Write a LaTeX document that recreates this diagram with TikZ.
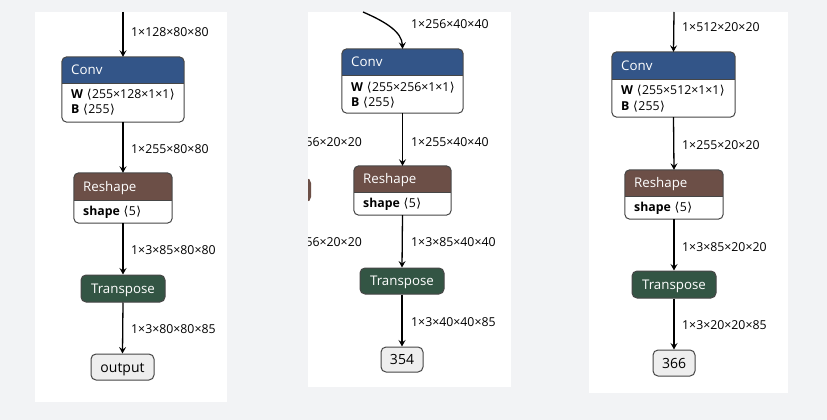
\documentclass[tikz,border=0pt]{standalone}
\usepackage{fontspec}
\setmainfont{Open Sans}
\newfontfamily\dvfont{DejaVu Sans}
\usetikzlibrary{arrows.meta,fit}
\definecolor{pagebg}{RGB}{242,243,245}
\definecolor{convc}{RGB}{51,85,136}
\definecolor{reshc}{RGB}{108,79,71}
\definecolor{tranc}{RGB}{51,85,68}
\definecolor{bord}{RGB}{70,70,70}
\definecolor{termc}{RGB}{238,238,238}
\newcommand{\lbrk}{{\dvfont\kern0.5pt ⟨\kern0.5pt}}
\newcommand{\rbrk}{{\dvfont\kern0.5pt ⟩}}
\tikzset{
  lbl/.style={font=\fontsize{12.3}{14}\selectfont, anchor=west, inner sep=0pt, text height=8.8pt, text depth=0pt},
  att/.style={font=\fontsize{12.3}{14}\selectfont, anchor=west, inner sep=0pt, text height=8.8pt, text depth=0pt},
  hdr/.style={font=\fontsize{13.3}{15}\selectfont, text=white, anchor=west, inner sep=0pt, text height=9.5pt, text depth=0pt},
  termtxt/.style={font=\fontsize{14}{16}\selectfont, text=black, inner sep=0pt, text height=10pt, text depth=0pt},
  trtxt/.style={font=\fontsize{13.3}{15}\selectfont, text=white, inner sep=0pt, text height=9.5pt, text depth=0pt},
  edge/.style={draw=black, line width=1.3pt, -{Stealth[length=6.5pt,width=7pt,inset=2.5pt]}},
  panel/.style={fill=white},
}
\newcommand{\opbox}[8]{%
  \node[fit={(#2,#3) (#4,#5)}, inner sep=0pt] (#1) {};
  \fill[white, rounded corners=5pt] (#1.north west) rectangle (#1.south east);
  \begin{scope}
    \clip[rounded corners=5pt] (#1.north west) rectangle (#1.south east);
    \fill[#7] (#2,#3) rectangle (#4,#6);
  \end{scope}
  \draw[bord, line width=0.8pt] (#2,#6) -- (#4,#6);
  \draw[bord, line width=1pt, rounded corners=5pt] (#1.north west) rectangle (#1.south east);
  \node[hdr] (#1-t) at ({#2+9},{(#3+#6)/2}) {#8};
}
\newcommand{\onebox}[8]{%
  \node[fit={(#2,#3) (#4,#5)}, inner sep=0pt, draw=bord, line width=1pt, fill=#6, rounded corners=5pt] (#1) {};
  \node[#7] (#1-t) at (#1.center) {#8};
}
\begin{document}
\begin{tikzpicture}[x=1pt,y=-1pt]
\useasboundingbox (0,0) rectangle (827,420);
\fill[pagebg] (0,0) rectangle (827,420);
% panels
\fill[panel] (35,12) rectangle (227,402);
\fill[panel] (308,12) rectangle (511,387);
\fill[panel] (589,12) rectangle (788,393);

% ---------- panel 1 ----------
\coordinate (in1) at (123,12);
\opbox{conv1}{62}{57}{184}{122}{83}{convc}{Conv}
\node[att] (conv1-w) at (71,94) {\textbf{W} \lbrk255×128×1×1\rbrk};
\node[att] (conv1-b) at (71,109) {\textbf{B} \lbrk255\rbrk};
\opbox{resh1}{74}{173}{172}{223}{200}{reshc}{Reshape}
\node[att] (resh1-s) at (83,211) {\textbf{shape} \lbrk5\rbrk};
\onebox{tr1}{81}{275}{165}{302}{tranc}{trtxt}{Transpose}
\onebox{out1}{91}{354}{154}{380}{termc}{termtxt}{output}
\draw[edge] (in1) -- (conv1.north);
\draw[edge] (conv1.south) -- (resh1.north);
\draw[edge] (resh1.south) -- (tr1.north);
\draw[edge] (tr1.south) -- (out1.north);
\node[lbl] (l1a) at (131,32) {1×128×80×80};
\node[lbl] (l1b) at (131,149) {1×255×80×80};
\node[lbl] (l1c) at (131,250) {1×3×85×80×80};
\node[lbl] (l1d) at (131,329) {1×3×80×80×85};

% ---------- panel 2 ----------
\begin{scope}
  \clip (308,12) rectangle (511,387);
  \node[lbl, anchor=east] (x2a) at (362,142) {1×256×20×20};
  \node[lbl, anchor=east] (x2b) at (362,242) {1×256×20×20};
  \fill[reshc, rounded corners=5pt] (260,178) rectangle (311,202);
\end{scope}
\coordinate (in2) at (363,12);
\opbox{conv2}{342}{49}{463}{113}{75}{convc}{Conv}
\node[att] (conv2-w) at (351,87) {\textbf{W} \lbrk255×256×1×1\rbrk};
\node[att] (conv2-b) at (351,102) {\textbf{B} \lbrk255\rbrk};
\opbox{resh2}{354}{166}{451}{215}{192}{reshc}{Reshape}
\node[att] (resh2-s) at (363,203) {\textbf{shape} \lbrk5\rbrk};
\onebox{tr2}{360}{268}{444}{294}{tranc}{trtxt}{Transpose}
\onebox{out2}{381}{347}{423}{372}{termc}{termtxt}{354}
\draw[edge] (in2) .. controls (386,22) and (402,32) .. (conv2.north);
\draw[edge] (conv2.south) -- (resh2.north);
\draw[edge] (resh2.south) -- (tr2.north);
\draw[edge] (tr2.south) -- (out2.north);
\node[lbl] (l2a) at (411,24) {1×256×40×40};
\node[lbl] (l2b) at (411,142) {1×255×40×40};
\node[lbl] (l2c) at (411,242) {1×3×85×40×40};
\node[lbl] (l2d) at (411,322) {1×3×40×40×85};

% ---------- panel 3 ----------
\coordinate (in3) at (674,12);
\opbox{conv3}{612}{52}{735}{117}{79}{convc}{Conv}
\node[att] (conv3-w) at (621,90) {\textbf{W} \lbrk255×512×1×1\rbrk};
\node[att] (conv3-b) at (621,106) {\textbf{B} \lbrk255\rbrk};
\opbox{resh3}{625}{170}{723}{219}{196}{reshc}{Reshape}
\node[att] (resh3-s) at (634,207) {\textbf{shape} \lbrk5\rbrk};
\onebox{tr3}{632}{271}{716}{298}{tranc}{trtxt}{Transpose}
\onebox{out3}{653}{350}{695}{376}{termc}{termtxt}{366}
\draw[edge] (in3) -- (conv3.north);
\draw[edge] (conv3.south) -- (resh3.north);
\draw[edge] (resh3.south) -- (tr3.north);
\draw[edge] (tr3.south) -- (out3.north);
\node[lbl] (l3a) at (682,27) {1×512×20×20};
\node[lbl] (l3b) at (682,145) {1×255×20×20};
\node[lbl] (l3c) at (682,247) {1×3×85×20×20};
\node[lbl] (l3d) at (682,325) {1×3×20×20×85};
\end{tikzpicture}
\end{document}
